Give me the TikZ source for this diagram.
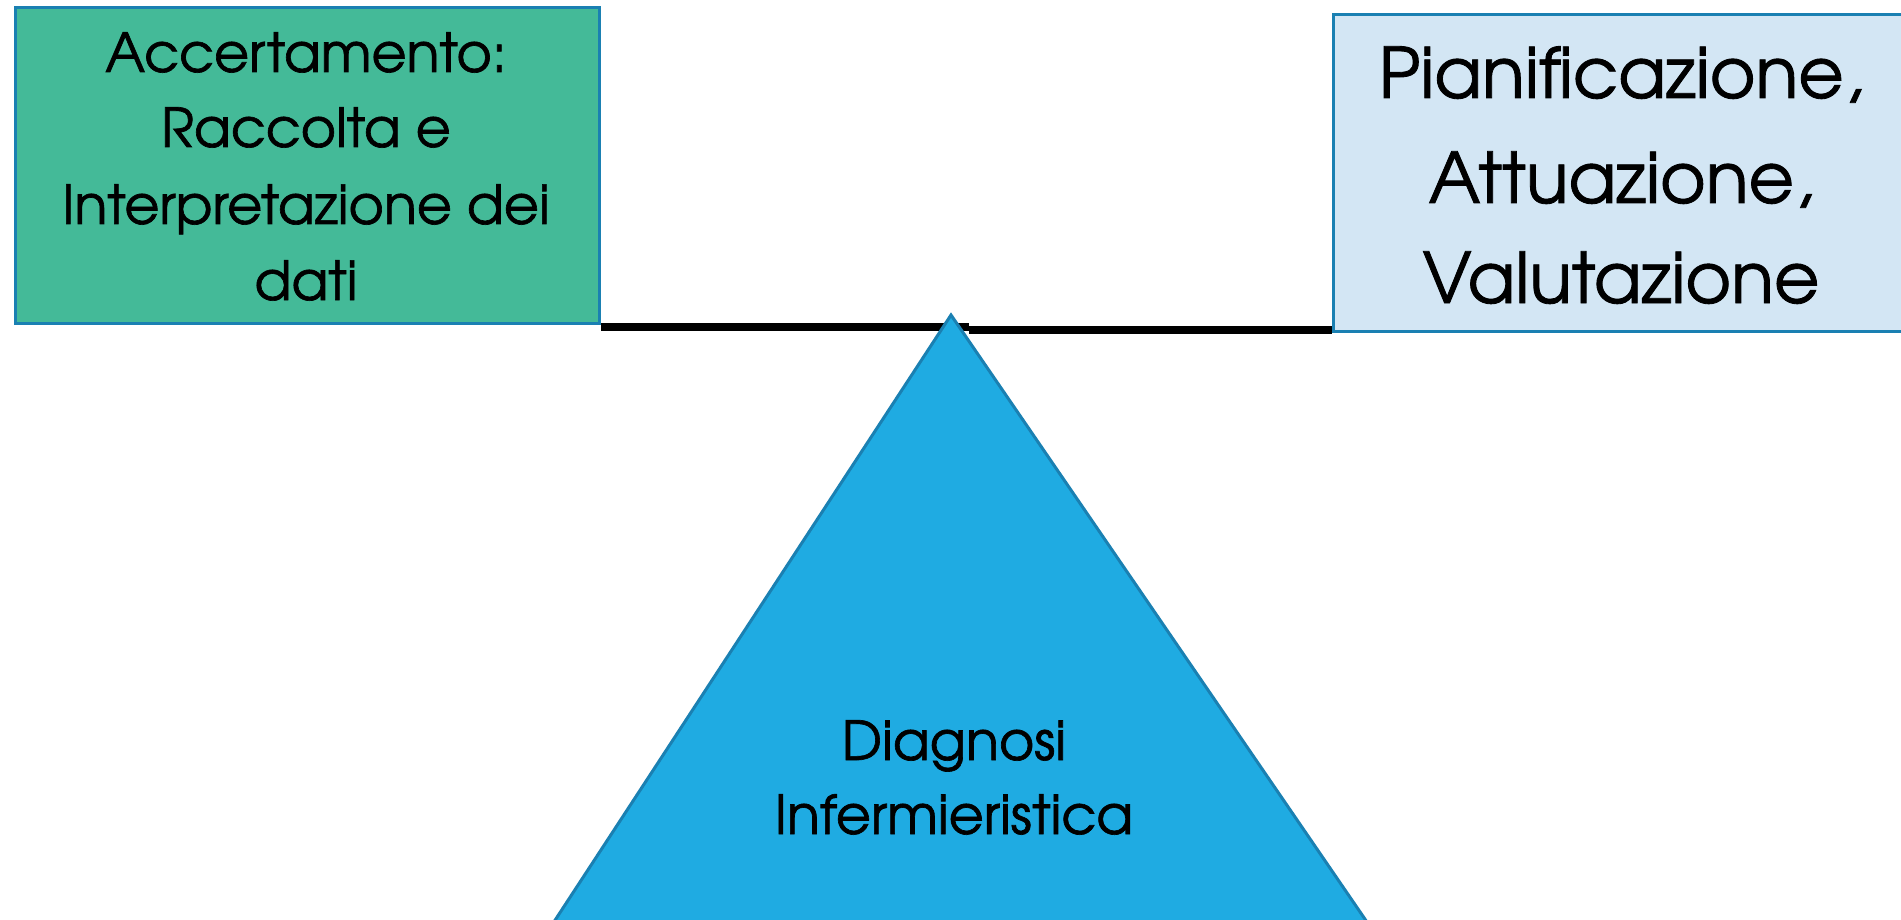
\documentclass[tikz,border=0pt]{standalone}
\usepackage{fontspec}
\newfontfamily\tw[FakeBold=1.2]{TeX Gyre Adventor}
\definecolor{greenbox}{RGB}{68,186,152}
\definecolor{lightbox}{RGB}{211,230,244}
\definecolor{trifill}{RGB}{31,171,226}
\definecolor{edgeblue}{RGB}{26,128,178}
\tikzset{
  box/.style={draw=edgeblue, line width=3pt, inner sep=0pt, anchor=north west},
  lbl/.style={anchor=base, inner sep=0pt, outer sep=0pt, text=black},
  small/.style={lbl, font=\tw\fontsize{54}{76}\selectfont},
  big/.style={lbl, font=\tw\fontsize{70}{100}\selectfont},
  beam/.style={line width=8pt, black},
}
\begin{document}
\begin{tikzpicture}[x=1pt,y=-1pt]
\useasboundingbox (0,0) rectangle (1901,920);
\clip (0,0) rectangle (1901,920);
\fill[white] (0,0) rectangle (1901,920);
% boxes
\node[box, fill=greenbox, minimum width=584pt, minimum height=316pt] (acc) at (14,6) {};
\node[box, fill=lightbox, minimum width=600pt, minimum height=317pt] (pia) at (1332,13) {};
% beam
\coordinate (bm1) at (969,327);
\coordinate (bm2) at (969,330);
\draw[beam] (acc.south east |- bm1) -- (bm1);
\draw[beam] (bm2) -- (pia.south west |- bm2);
% triangle
\coordinate (apex) at (951,315);
\coordinate (tl) at (529,960);
\coordinate (tr) at (1393,960);
\draw[draw=edgeblue, line width=3pt, fill=trifill, line join=miter] (apex) -- (tl) -- (tr) -- cycle;
% texts
\node[small] (a1) at (306,72) {Accertamento:};
\node[small] (a2) at (306,147) {Raccolta e};
\node[small] (a3) at (306,224) {Interpretazione dei};
\node[small] (a4) at (306,300) {dati};
\node[big] (p1) at (1621,98) {Pianificazione,};
\node[big] (p2) at (1621,203) {Attuazione,};
\node[big] (p3) at (1621,303) {Valutazione};
\node[small] (d1) at (954,760) {Diagnosi};
\node[small] (d2) at (954,834) {Infermieristica};
\end{tikzpicture}
\end{document}
